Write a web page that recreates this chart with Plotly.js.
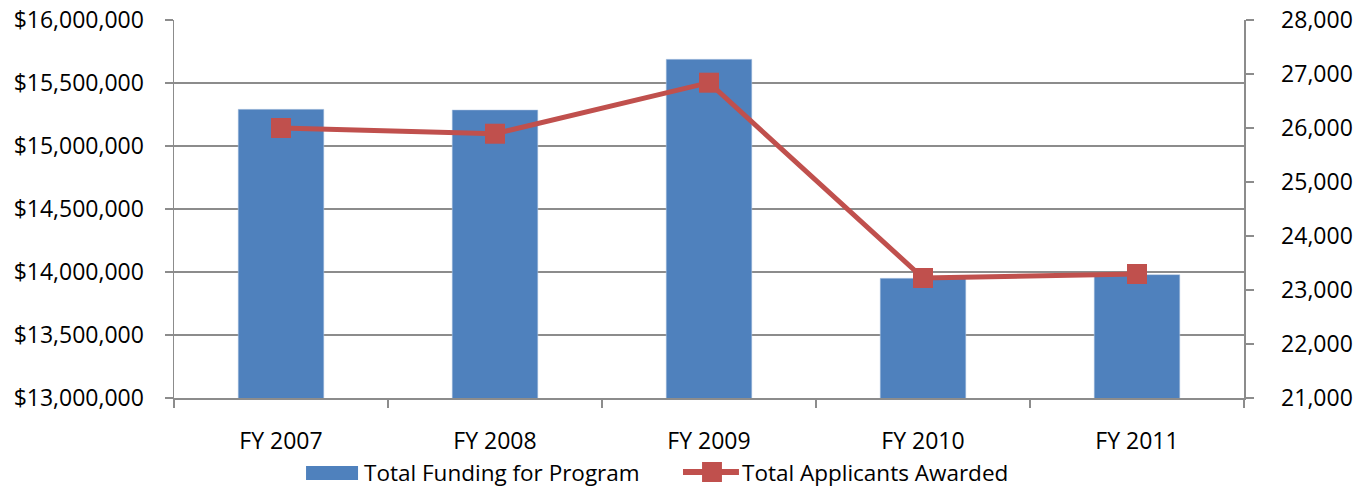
<!DOCTYPE html>
<html>
<head>
<meta charset="utf-8">
<script src="https://cdn.plot.ly/plotly-3.0.1.min.js"></script>
<style>html,body{margin:0;padding:0;background:#fff;}#chart{width:1358px;height:487px;}</style>
</head>
<body>
<div id="chart"></div>
<script>
const categories = ['FY 2007', 'FY 2008', 'FY 2009', 'FY 2010', 'FY 2011'];
const totalFunding = [15291000, 15286000, 15688000, 13950000, 13979000];
const applicantsAwarded = [26000, 25894, 26839, 23222, 23296];
const seriesNames = ['Total Funding for Program', 'Total Applicants Awarded'];

const FONT = 'Open Sans, sans-serif';
const GRID = '#8c8c8c';
const BLUE = '#4F81BD';
const RED = '#C0504D';
const FS = 23;

const traces = [
  {
    type: 'bar',
    name: seriesNames[0],
    x: categories,
    y: totalFunding,
    marker: {color: BLUE, line: {color: '#b9cde5', width: 0.5}},
    yaxis: 'y',
    showlegend: false
  },
  {
    type: 'scatter',
    mode: 'lines+markers',
    name: seriesNames[1],
    x: categories,
    y: applicantsAwarded,
    yaxis: 'y2',
    line: {color: RED, width: 5},
    marker: {symbol: 'square', size: 20, color: RED},
    showlegend: false
  }
];

// Legend drawn with paper-referenced shapes and annotations (Excel-style swatches)
const legY = -0.1958;
const shapes = [
  {type: 'rect', xref: 'paper', yref: 'paper', x0: 0.1234, x1: 0.1720, y0: -0.2169, y1: -0.1799,
   fillcolor: BLUE, line: {width: 0}},
  {type: 'line', xref: 'paper', yref: 'paper', x0: 0.4757, x1: 0.5280, y0: legY, y1: legY,
   line: {color: RED, width: 6}},
  {type: 'rect', xref: 'paper', yref: 'paper', x0: 0.4935, x1: 0.5121, y0: -0.2222, y1: -0.1693,
   fillcolor: RED, line: {width: 0}}
];
const annotations = [
  {xref: 'paper', yref: 'paper', x: 0.1770, y: legY, xanchor: 'left', yanchor: 'middle', borderpad: 0,
   text: seriesNames[0], showarrow: false, font: {family: FONT, size: 22.5, color: '#000'}},
  {xref: 'paper', yref: 'paper', x: 0.5295, y: legY, xanchor: 'left', yanchor: 'middle', borderpad: 0,
   text: seriesNames[1], showarrow: false, font: {family: FONT, size: 22.5, color: '#000'}}
];

const layout = {
  width: 1358,
  height: 487,
  margin: {l: 174, r: 114, t: 20, b: 89},
  paper_bgcolor: '#ffffff',
  plot_bgcolor: '#ffffff',
  font: {family: FONT, size: FS, color: '#000000'},
  bargap: 0.6,
  showlegend: false,
  shapes: shapes,
  annotations: annotations,
  xaxis: {
    type: 'category',
    showline: true, linecolor: GRID, linewidth: 1.5,
    ticks: 'outside', tickson: 'boundaries', ticklen: 8, tickcolor: GRID, tickwidth: 1.5,
    ticklabelstandoff: 22,
    showgrid: false,
    automargin: false,
    tickfont: {family: FONT, size: FS, color: '#000'}
  },
  yaxis: {
    range: [13000000, 16000000],
    dtick: 500000,
    tickformat: ',.0f',
    tickprefix: '$',
    showline: true, linecolor: GRID, linewidth: 1.5,
    ticks: 'outside', ticklen: 8, tickcolor: GRID, tickwidth: 1.5,
    ticklabelstandoff: 16,
    showgrid: true, gridcolor: GRID, gridwidth: 1.5,
    zeroline: false,
    automargin: false,
    tickfont: {family: FONT, size: FS, color: '#000'}
  },
  yaxis2: {
    overlaying: 'y',
    side: 'right',
    range: [21000, 28000],
    dtick: 1000,
    tickformat: ',.0f',
    showline: true, linecolor: GRID, linewidth: 1.5,
    ticks: 'outside', ticklen: 8, tickcolor: GRID, tickwidth: 1.5,
    ticklabelstandoff: 23,
    showgrid: false,
    zeroline: false,
    automargin: false,
    tickfont: {family: FONT, size: FS, color: '#000'}
  }
};

Plotly.newPlot('chart', traces, layout, {displayModeBar: false, staticPlot: true});
</script>
</body>
</html>
